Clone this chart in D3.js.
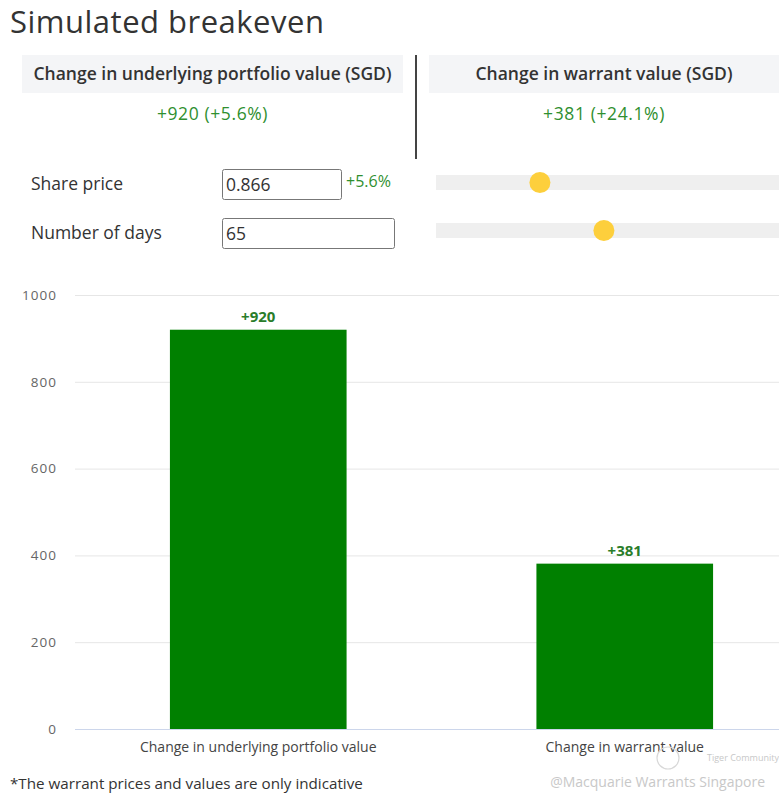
<!DOCTYPE html>
<html>
<head>
<meta charset="utf-8">
<script src="https://cdn.jsdelivr.net/npm/d3@7"></script>
<style>
  html, body { margin: 0; padding: 0; background: #fff; }
  svg { display: block; }
  text { font-family: "Open Sans", sans-serif; }
</style>
</head>
<body>
<svg id="chart" width="779" height="800"></svg>
<script>
// ---- data ----
const categories = ["Change in underlying portfolio value", "Change in warrant value"];
const values = [920, 381];
const valueLabels = ["+920", "+381"];
const yTicks = [0, 200, 400, 600, 800, 1000];
const panelTitles = ["Change in underlying portfolio value (SGD)", "Change in warrant value (SGD)"];
const panelValues = ["+920 (+5.6%)", "+381 (+24.1%)"];
const inputLabels = ["Share price", "Number of days"];
const inputValues = ["0.866", "65"];
const sharePriceChange = "+5.6%";
const sliderPositions = [0.273, 0.459]; // knob position along each slider track (0..1)

const svg = d3.select("#chart");
const green = "#008000";
const textGreen = "#2f8f2f";

// ---- title ----
svg.append("text").attr("x", 10).attr("y", 33)
  .attr("font-size", 31).attr("letter-spacing", 0.5).attr("fill", "#333").text("Simulated breakeven");

// ---- panels ----
const panels = [{x: 22, w: 381}, {x: 429, w: 350}];
panels.forEach((p, i) => {
  svg.append("rect").attr("x", p.x).attr("y", 55).attr("width", p.w).attr("height", 38)
    .attr("fill", "#f4f5f7");
  svg.append("text").attr("x", p.x + p.w / 2).attr("y", 80).attr("text-anchor", "middle")
    .attr("font-size", 17.5).attr("font-weight", 600).attr("fill", "#333").text(panelTitles[i]);
  svg.append("text").attr("x", p.x + p.w / 2).attr("y", 120).attr("text-anchor", "middle")
    .attr("font-size", 17.5).attr("letter-spacing", 0.6).attr("fill", textGreen).text(panelValues[i]);
});
svg.append("line").attr("x1", 416).attr("x2", 416).attr("y1", 55).attr("y2", 159)
  .attr("stroke", "#444").attr("stroke-width", 2);

// ---- inputs ----
const inputs = [{y: 169, w: 119}, {y: 218, w: 172}];
inputs.forEach((inp, i) => {
  svg.append("text").attr("x", 31).attr("y", inp.y + 21).attr("font-size", 17.5)
    .attr("fill", "#333").text(inputLabels[i]);
  svg.append("rect").attr("x", 222.5).attr("y", inp.y + 0.5).attr("width", inp.w).attr("height", 30)
    .attr("rx", 2).attr("fill", "#fff").attr("stroke", "#777").attr("stroke-width", 1);
  svg.append("text").attr("x", 226).attr("y", inp.y + 22).attr("font-size", 17.5)
    .attr("fill", "#333").text(inputValues[i]);
});
svg.append("text").attr("x", 346).attr("y", 187).attr("font-size", 16)
  .attr("fill", textGreen).text(sharePriceChange);

// ---- sliders ----
const sliderX = d3.scaleLinear().domain([0, 1]).range([446, 790]);
[182.5, 230.5].forEach((cy, i) => {
  svg.append("rect").attr("x", 436).attr("y", cy - 7.5).attr("width", 343).attr("height", 15)
    .attr("fill", "#efefef");
  svg.append("circle").attr("cx", sliderX(sliderPositions[i])).attr("cy", cy).attr("r", 10.5)
    .attr("fill", "#fdcf3c");
});

// ---- bar chart ----
const y = d3.scaleLinear().domain([0, 1000]).range([729, 295]);
const x = d3.scaleBand().domain(categories).range([75, 808])
  .paddingInner(0.518).paddingOuter(0.259);

const yAxis = svg.append("g").attr("transform", "translate(75,0)")
  .call(d3.axisLeft(y).tickValues(yTicks).tickSize(-704).tickFormat(d3.format("d")).tickPadding(18));
yAxis.select(".domain").remove();
yAxis.attr("font-size", 13.5).attr("font-family", "Open Sans, sans-serif");
yAxis.selectAll(".tick line").attr("stroke", "#e6e6e6");
yAxis.selectAll(".tick").filter(d => d === 0).select("line").attr("stroke", "#ccd6eb");
yAxis.selectAll(".tick text")
  .style("font-size", "13.5px").style("letter-spacing", "1px").attr("fill", "#666");

svg.append("g").selectAll("rect").data(values).join("rect")
  .attr("x", (d, i) => x(categories[i]))
  .attr("y", d => y(d))
  .attr("width", x.bandwidth())
  .attr("height", d => y(0) - y(d))
  .attr("fill", green);

svg.append("g").selectAll("text").data(values).join("text")
  .attr("x", (d, i) => x(categories[i]) + x.bandwidth() / 2)
  .attr("y", d => y(d) - 8)
  .attr("text-anchor", "middle").attr("font-size", 15).attr("font-weight", 700)
  .attr("fill", "#2a7d2a").text((d, i) => valueLabels[i]);

svg.append("g").selectAll("text").data(categories).join("text")
  .attr("x", d => x(d) + x.bandwidth() / 2)
  .attr("y", 752)
  .attr("text-anchor", "middle").attr("font-size", 14).attr("fill", "#444").text(d => d);

// ---- footnote & watermark ----
svg.append("text").attr("x", 10).attr("y", 789).attr("font-size", 15.2)
  .attr("fill", "#333").text("*The warrant prices and values are only indicative");
svg.append("circle").attr("cx", 668).attr("cy", 758).attr("r", 11)
  .attr("fill", "none").attr("stroke", "#d8d8d8").attr("stroke-width", 1.2);
svg.append("text").attr("x", 707).attr("y", 761).attr("font-size", 9)
  .attr("fill", "#c8c8c8").text("Tiger Community");
svg.append("text").attr("x", 765).attr("y", 787).attr("text-anchor", "end").attr("font-size", 14)
  .attr("fill", "#c8c8c8").text("@Macquarie Warrants Singapore");
</script>
</body>
</html>
